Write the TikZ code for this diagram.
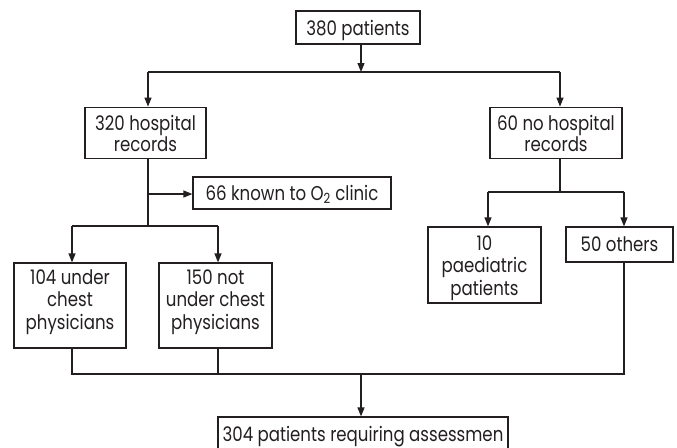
\documentclass[tikz,border=0pt]{standalone}
\usepackage{fontspec}
\setmainfont{Poppins}[FakeStretch=0.83]
\usetikzlibrary{arrows.meta}
\definecolor{ink}{RGB}{35,31,32}
\newcommand{\lines}[1]{\begin{tabular}[b]{@{}c@{}}#1\end{tabular}}
\begin{document}
\begin{tikzpicture}[x=1pt,y=-1pt,line width=1.2pt,draw=ink,text=ink,
  box/.style={draw, inner sep=0pt, text depth=0pt, font=\fontsize{20}{22.5}\selectfont},
  tight/.style={font=\fontsize{20}{20}\selectfont},
  arr/.style={-{Triangle[length=9pt,width=7pt]}}]
\useasboundingbox (0,0) rectangle (677,447);
\clip (0,0) rectangle (677,447);
\node[box, text height=15pt, minimum width=124pt, minimum height=33pt] (top) at (358,27.5) {\lines{380 patients}};
\node[box, tight, text height=38pt, minimum width=121pt, minimum height=51pt] (h320) at (145.5,132.7) {\lines{320 hospital\\records}};
\node[box, tight, text height=38pt, minimum width=132pt, minimum height=51pt] (h60) at (556,132.7) {\lines{60 no hospital\\records}};
\node[box, text height=14pt, minimum width=198pt, minimum height=32pt] (o2) at (292,193) {\lines{66 known to O\textsubscript{2} clinic}};
\node[box, text height=47pt, minimum width=112pt, minimum height=85pt] (c104) at (70,305.5) {\lines{104 under\\chest\\physicians}};
\node[box, text height=47pt, minimum width=113pt, minimum height=85pt] (c150) at (215.5,305.5) {\lines{150 not\\under chest\\physicians}};
\node[box, text height=60pt, minimum width=113pt, minimum height=76pt] (p10) at (484.5,265) {\lines{10\\paediatric\\patients}};
\node[box, text height=14pt, minimum width=107pt, minimum height=35pt] (o50) at (619.5,244.5) {\lines{50 others}};
\node[box, text height=15pt, minimum width=290pt, minimum height=33pt] (ass) at (363,433.5) {\lines{304 patients requiring assessmen}};
% top split
\coordinate (s1) at (361,72);
\coordinate (L1) at (148,72);
\coordinate (R1) at (560,72);
\draw[arr] (top.south -| s1) -- (s1);
\draw (L1) -- (R1);
\draw[arr] (L1) -- (L1 |- h320.north);
\draw[arr] (R1) -- (R1 |- h60.north);
% left branch
\coordinate (b320) at (148,226);
\coordinate (k) at (148,194);
\draw (h320.south -| b320) -- (b320);
\draw[arr] (k) -- (k -| o2.west);
\coordinate (L2) at (72,226);
\coordinate (R2) at (218,226);
\draw (L2) -- (R2);
\draw[arr] (L2) -- (L2 |- c104.north);
\draw[arr] (R2) -- (R2 |- c150.north);
% right branch
\coordinate (b60) at (560,192);
\coordinate (L3) at (488,192);
\coordinate (R3) at (624,192);
\draw (h60.south -| b60) -- (b60);
\draw (L3) -- (R3);
\draw[arr] (L3) -- (L3 |- p10.north);
\draw[arr] (R3) -- (R3 |- o50.north);
% merge
\coordinate (L4) at (72,374);
\coordinate (M4) at (218,374);
\coordinate (R4) at (624,374);
\coordinate (S4) at (361,374);
\draw (c104.south -| L4) -- (L4) -- (R4) -- (o50.south -| R4);
\draw (c150.south -| M4) -- (M4);
\draw[arr] (S4) -- (S4 |- ass.north);
\end{tikzpicture}
\end{document}
